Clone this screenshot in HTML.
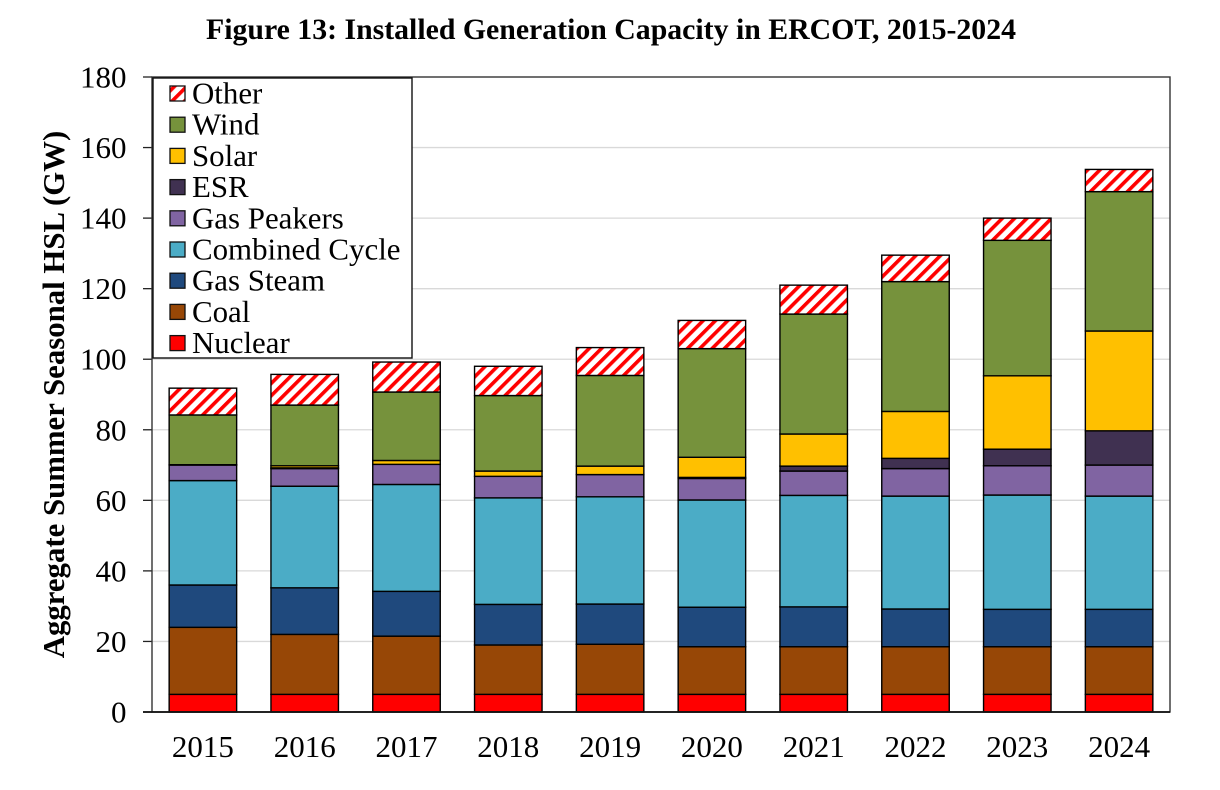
<!DOCTYPE html>
<html lang="en">
<head>
<meta charset="utf-8">
<title>Figure 13: Installed Generation Capacity in ERCOT, 2015-2024</title>
<style>
html,body{margin:0;padding:0;background:#fff;width:1220px;height:790px;overflow:hidden}
svg{display:block;font-family:"Liberation Serif",serif;fill:#000}
</style>
</head>
<body>
<svg id="chart" width="1220" height="790" viewBox="0 0 1220 790" xmlns="http://www.w3.org/2000/svg">
<defs>
<pattern id="hatch" patternUnits="userSpaceOnUse" width="8.7" height="8.7" patternTransform="rotate(45)">
<rect width="8.7" height="8.7" fill="#fff"/>
<rect width="3.6" height="8.7" fill="#f00"/>
</pattern>
</defs>
<text x="611" y="39" text-anchor="middle" font-size="29.8" font-weight="bold" textLength="810" lengthAdjust="spacingAndGlyphs">Figure 13: Installed Generation Capacity in ERCOT, 2015-2024</text>
<text transform="translate(64,394.5) rotate(-90)" text-anchor="middle" font-size="30.8" font-weight="bold">Aggregate Summer Seasonal HSL (GW)</text>
<g id="grid"></g>
<g id="bars"></g>
<g id="axes"></g>
<g id="legend"></g>
</svg>
<script>
const years = ['2015','2016','2017','2018','2019','2020','2021','2022','2023','2024'];
const yTicks = [0,20,40,60,80,100,120,140,160,180];
const seriesNames = ['Nuclear','Coal','Gas Steam','Combined Cycle','Gas Peakers','ESR','Solar','Wind','Other'];
const nuclear = [5,5,5,5,5,5,5,5,5,5];
const coal = [19,17,16.5,14,14.2,13.5,13.5,13.5,13.5,13.5];
const gasSteam = [12,13.2,12.7,11.5,11.4,11.2,11.3,10.7,10.6,10.6];
const combinedCycle = [29.6,28.8,30.3,30.2,30.4,30.4,31.6,32,32.4,32.1];
const gasPeakers = [4.4,5,5.7,6.1,6.3,6.1,6.9,7.8,8.3,8.8];
const esr = [0,0.2,0,0,0,0.3,1.4,2.9,4.7,9.7];
const solar = [0.1,0.6,1.1,1.5,2.4,5.7,9.1,13.3,20.8,28.3];
const wind = [14.1,17.2,19.4,21.4,25.7,30.8,34,36.8,38.4,39.5];
const other = [7.6,8.7,8.5,8.3,7.9,8,8.2,7.5,6.3,6.3];
const seriesValues = [nuclear,coal,gasSteam,combinedCycle,gasPeakers,esr,solar,wind,other];
const seriesFills = ['#ff0000','#974706','#1f497d','#4bacc6','#8064a2','#403151','#ffc000','#76923c','url(#hatch)'];

const NS = 'http://www.w3.org/2000/svg';
const plotLeft = 152, plotRight = 1170, plotTop = 77, plotBottom = 712, yMax = 180;
const yScale = v => plotBottom - (v / yMax) * (plotBottom - plotTop);
const band = (plotRight - plotLeft) / years.length;
const xScale = i => plotLeft + band * (i + 0.5);
const barWidth = 67.5;

function make(tag, attrs, parent, text) {
  const el = document.createElementNS(NS, tag);
  for (const k in attrs) el.setAttribute(k, attrs[k]);
  if (text !== undefined) el.textContent = text;
  parent.appendChild(el);
  return el;
}
function slug(s) { return s.toLowerCase().replace(/\s+/g, '-'); }

const gridG = document.getElementById('grid');
const barsG = document.getElementById('bars');
const axesG = document.getElementById('axes');
const legendG = document.getElementById('legend');

const plotArea = make('rect', {x: plotLeft, y: plotTop, width: plotRight - plotLeft, height: plotBottom - plotTop, fill: '#fff'}, gridG);



yTicks.forEach(t => {
  if (t > 0 && t < yMax) {
    const g = make('line', {x1: plotLeft, x2: plotRight, y1: yScale(t), y2: yScale(t), stroke: '#d9d9d9', 'stroke-width': 1.3}, gridG);
    
    
  }
  const tick = make('line', {x1: plotLeft - 9, x2: plotLeft, y1: yScale(t), y2: yScale(t), stroke: '#222', 'stroke-width': 1.3}, axesG);
  
  
  const lab = make('text', {x: 126.5, y: yScale(t) + 10.5, 'text-anchor': 'end', 'font-size': 31}, axesG, String(t));
  
  
});

years.forEach((yr, i) => {
  let cum = 0;
  seriesValues.forEach((vals, s) => {
    const v = vals[i];
    if (v <= 0) return;
    const y0 = yScale(cum), y1 = yScale(cum + v);
    cum += v;
    const r = make('rect', {x: xScale(i) - barWidth / 2, y: y1, width: barWidth, height: y0 - y1, fill: seriesFills[s], stroke: '#000', 'stroke-width': 1.4}, barsG);
    
    
  });
  const lab = make('text', {x: xScale(i), y: 757, 'text-anchor': 'middle', 'font-size': 31}, axesG, yr);
  
  
});

const frame = make('rect', {x: plotLeft, y: plotTop, width: plotRight - plotLeft, height: plotBottom - plotTop, fill: 'none', stroke: '#333', 'stroke-width': 1.4}, axesG);


const xAxis = make('line', {x1: plotLeft - 9, x2: plotRight, y1: plotBottom, y2: plotBottom, stroke: '#111', 'stroke-width': 1.8}, axesG);



const box = make('rect', {x: 153, y: 78, width: 259, height: 280, fill: '#fff', stroke: '#111', 'stroke-width': 1.4}, legendG);


const legendOrder = seriesNames.map((n, i) => i).reverse();
legendOrder.forEach((s, row) => {
  const cy = 93.5 + row * 31.2;
  const sw = make('rect', {x: 170, y: cy - 7.5, width: 15, height: 15, fill: seriesFills[s], stroke: '#111', 'stroke-width': 1.3}, legendG);
  
  
  const t = make('text', {x: 192, y: cy + 10, 'font-size': 30.9}, legendG, seriesNames[s]);
  
  
});
</script>
</body>
</html>
